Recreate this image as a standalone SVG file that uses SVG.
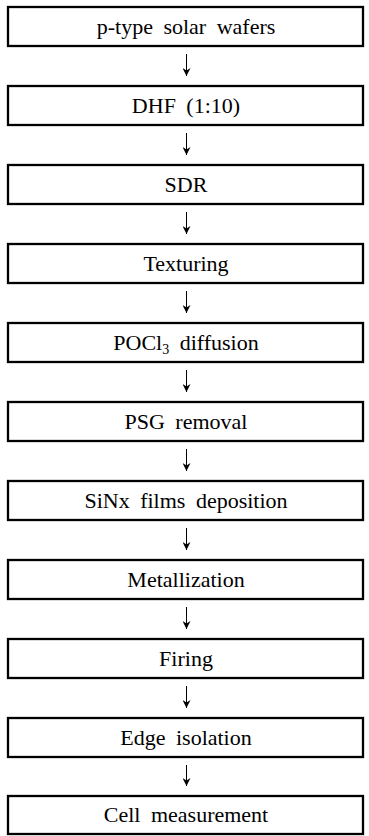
<svg xmlns="http://www.w3.org/2000/svg" width="369" height="836" viewBox="0 0 369 836">
<style>
.box{fill:#fff;stroke:#000;stroke-width:2.3}
.lbl{fill:#000;text-anchor:middle;word-spacing:5px;font-size:22px;font-family:'Liberation Serif','Times New Roman',serif}
.sub{font-size:14px}
.con{stroke:#000;stroke-width:1;fill:none}
</style>
<defs>
<marker id="ah" viewBox="0 0 8 8" refX="8" refY="4" markerWidth="8" markerHeight="8" markerUnits="userSpaceOnUse" orient="auto">
<path d="M0,0 L8,4 L0,8 L2.5,4 Z" fill="#000"/>
</marker>
</defs>
<rect width="369" height="836" fill="#fff"/>
<g id="connectors">
<line class="con" x1="186.5" y1="54" x2="186.5" y2="76" marker-end="url(#ah)"/>
<line class="con" x1="186.5" y1="133" x2="186.5" y2="155" marker-end="url(#ah)"/>
<line class="con" x1="186.5" y1="212" x2="186.5" y2="234" marker-end="url(#ah)"/>
<line class="con" x1="186.5" y1="291" x2="186.5" y2="313" marker-end="url(#ah)"/>
<line class="con" x1="186.5" y1="370" x2="186.5" y2="392" marker-end="url(#ah)"/>
<line class="con" x1="186.5" y1="449" x2="186.5" y2="471" marker-end="url(#ah)"/>
<line class="con" x1="186.5" y1="528" x2="186.5" y2="550" marker-end="url(#ah)"/>
<line class="con" x1="186.5" y1="607" x2="186.5" y2="629" marker-end="url(#ah)"/>
<line class="con" x1="186.5" y1="686" x2="186.5" y2="708" marker-end="url(#ah)"/>
<line class="con" x1="186.5" y1="765" x2="186.5" y2="786" marker-end="url(#ah)"/>
</g>
<g id="n1"><rect class="box" x="8" y="7" width="355" height="39"/><text class="lbl" x="186" y="34">p-type solar wafers</text></g>
<g id="n2"><rect class="box" x="8" y="86" width="355" height="39"/><text class="lbl" x="186" y="113">DHF (1:10)</text></g>
<g id="n3"><rect class="box" x="8" y="165" width="355" height="39"/><text class="lbl" x="186" y="192">SDR</text></g>
<g id="n4"><rect class="box" x="8" y="244" width="355" height="39"/><text class="lbl" x="186" y="271">Texturing</text></g>
<g id="n5"><rect class="box" x="8" y="323" width="355" height="39"/><text class="lbl" x="186" y="350">POCl<tspan class="sub" dy="4">3</tspan><tspan dy="-4"> diffusion</tspan></text></g>
<g id="n6"><rect class="box" x="8" y="402" width="355" height="39"/><text class="lbl" x="186" y="429">PSG removal</text></g>
<g id="n7"><rect class="box" x="8" y="481" width="355" height="39"/><text class="lbl" x="186" y="508">SiNx films deposition</text></g>
<g id="n8"><rect class="box" x="8" y="560" width="355" height="39"/><text class="lbl" x="186" y="587">Metallization</text></g>
<g id="n9"><rect class="box" x="8" y="639" width="355" height="39"/><text class="lbl" x="186" y="666">Firing</text></g>
<g id="n10"><rect class="box" x="8" y="718" width="355" height="39"/><text class="lbl" x="186" y="745">Edge isolation</text></g>
<g id="n11"><rect class="box" x="8" y="796" width="355" height="38"/><text class="lbl" x="186" y="822">Cell measurement</text></g>
</svg>
